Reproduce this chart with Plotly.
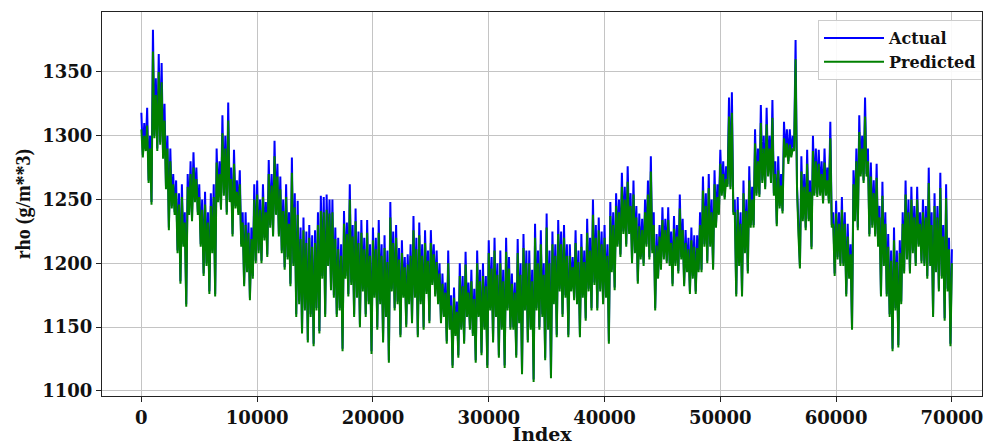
import plotly.graph_objects as go

# Sample spacing of the read-off series (Index units)
index_step = 125

actual = [
    1318, 1285, 1310, 1290, 1322, 1265, 1300, 1248, 1383, 1300, 1345, 1290, 1364, 1295, 1357, 1284, 1325, 1260, 1300, 1228,
    1290, 1245, 1270, 1240, 1265, 1210, 1255, 1186, 1262, 1215, 1240, 1168, 1270, 1240, 1280, 1235, 1287, 1250, 1275, 1240,
    1262, 1215, 1250, 1192, 1256, 1200, 1240, 1178, 1255, 1210, 1262, 1176, 1290, 1250, 1280, 1244, 1316, 1255, 1300, 1240,
    1326, 1250, 1275, 1223, 1289, 1245, 1265, 1240, 1273, 1215, 1240, 1184, 1240, 1195, 1232, 1173, 1228, 1190, 1262, 1202,
    1265, 1210, 1250, 1202, 1262, 1220, 1248, 1207, 1281, 1230, 1270, 1223, 1296, 1240, 1278, 1223, 1268, 1210, 1250, 1197,
    1262, 1205, 1240, 1184, 1283, 1200, 1255, 1160, 1249, 1170, 1228, 1147, 1236, 1165, 1225, 1140, 1230, 1160, 1222, 1137,
    1226, 1165, 1240, 1147, 1253, 1190, 1252, 1160, 1254, 1200, 1250, 1181, 1250, 1175, 1228, 1160, 1220, 1165, 1215, 1133,
    1241, 1190, 1232, 1176, 1262, 1185, 1230, 1160, 1243, 1175, 1225, 1152, 1234, 1180, 1220, 1160, 1234, 1170, 1215, 1131,
    1228, 1175, 1220, 1150, 1234, 1170, 1215, 1140, 1222, 1160, 1210, 1124, 1248, 1180, 1225, 1165, 1230, 1170, 1212, 1144,
    1218, 1175, 1205, 1152, 1207, 1170, 1215, 1155, 1237, 1175, 1220, 1144, 1232, 1170, 1215, 1150, 1226, 1178, 1210, 1155,
    1226, 1185, 1215, 1176, 1210, 1170, 1200, 1155, 1192, 1160, 1185, 1139, 1210, 1150, 1175, 1120, 1181, 1145, 1170, 1128,
    1200, 1150, 1190, 1139, 1209, 1160, 1185, 1150, 1195, 1145, 1180, 1124, 1210, 1160, 1195, 1130, 1200, 1150, 1190, 1120,
    1218, 1165, 1205, 1140, 1220, 1160, 1200, 1128, 1210, 1150, 1195, 1120, 1220, 1165, 1205, 1150, 1192, 1150, 1185, 1128,
    1219, 1155, 1200, 1115, 1223, 1165, 1210, 1140, 1210, 1150, 1195, 1109, 1231, 1165, 1210, 1150, 1226, 1160, 1200, 1126,
    1239, 1150, 1210, 1112, 1225, 1170, 1215, 1144, 1234, 1180, 1225, 1160, 1230, 1175, 1215, 1144, 1215, 1180, 1205, 1173,
    1226, 1170, 1210, 1144, 1223, 1175, 1210, 1157, 1235, 1180, 1220, 1165, 1250, 1185, 1230, 1165, 1236, 1180, 1225, 1170,
    1230, 1175, 1215, 1139, 1248, 1195, 1240, 1181, 1255, 1215, 1250, 1207, 1271, 1225, 1260, 1215, 1276, 1225, 1255, 1202,
    1265, 1210, 1245, 1186, 1239, 1205, 1235, 1200, 1250, 1215, 1265, 1205, 1284, 1210, 1240, 1165, 1223, 1190, 1230, 1197,
    1244, 1205, 1235, 1202, 1244, 1200, 1225, 1184, 1237, 1200, 1230, 1194, 1254, 1205, 1235, 1184, 1226, 1195, 1220, 1178,
    1228, 1190, 1222, 1178, 1222, 1195, 1240, 1195, 1268, 1215, 1255, 1202, 1270, 1215, 1250, 1197, 1273, 1230, 1262, 1240,
    1289, 1255, 1280, 1252, 1276, 1262, 1330, 1260, 1334, 1240, 1250, 1176, 1252, 1200, 1240, 1176, 1265, 1210, 1250, 1194,
    1276, 1230, 1260, 1230, 1305, 1255, 1290, 1254, 1324, 1265, 1300, 1260, 1322, 1270, 1300, 1265, 1328, 1255, 1280, 1231,
    1284, 1245, 1270, 1241, 1311, 1285, 1305, 1280, 1305, 1285, 1300, 1290, 1375, 1260, 1230, 1198, 1284, 1235, 1270, 1228,
    1289, 1235, 1265, 1213, 1300, 1255, 1290, 1254, 1289, 1255, 1280, 1249, 1290, 1255, 1275, 1249, 1311, 1230, 1240, 1192,
    1249, 1205, 1240, 1200, 1252, 1200, 1240, 1176, 1231, 1190, 1215, 1150, 1273, 1235, 1290, 1228, 1316, 1270, 1300, 1265,
    1330, 1270, 1290, 1223, 1279, 1230, 1265, 1223, 1278, 1215, 1245, 1176, 1264, 1200, 1240, 1176, 1223, 1160, 1210, 1133,
    1228, 1165, 1210, 1136, 1218, 1170, 1240, 1194, 1265, 1205, 1250, 1194, 1260, 1210, 1245, 1200, 1260, 1215, 1240, 1202,
    1250, 1200, 1245, 1190, 1275, 1200, 1240, 1160, 1255, 1195, 1245, 1180, 1271, 1190, 1230, 1157, 1262, 1180, 1220, 1137,
    1211,
]

predicted = [
    1305, 1283, 1300, 1288, 1308, 1263, 1290, 1246, 1366, 1298, 1332, 1288, 1350, 1293, 1342, 1282, 1312, 1258, 1290, 1226,
    1280, 1243, 1262, 1238, 1255, 1208, 1246, 1184, 1252, 1213, 1232, 1166, 1260, 1238, 1270, 1233, 1275, 1248, 1266, 1238,
    1252, 1213, 1242, 1190, 1246, 1198, 1232, 1176, 1245, 1208, 1252, 1174, 1279, 1248, 1270, 1242, 1302, 1253, 1290, 1238,
    1312, 1248, 1266, 1221, 1278, 1243, 1256, 1238, 1262, 1213, 1232, 1182, 1230, 1193, 1224, 1171, 1219, 1188, 1250, 1200,
    1254, 1208, 1242, 1200, 1252, 1218, 1240, 1205, 1270, 1228, 1261, 1221, 1284, 1238, 1268, 1221, 1258, 1208, 1241, 1195,
    1252, 1203, 1231, 1182, 1271, 1198, 1244, 1158, 1238, 1168, 1219, 1145, 1226, 1163, 1216, 1138, 1220, 1158, 1213, 1135,
    1216, 1163, 1230, 1145, 1241, 1188, 1240, 1158, 1242, 1198, 1239, 1179, 1240, 1173, 1219, 1158, 1211, 1163, 1206, 1131,
    1231, 1188, 1223, 1174, 1250, 1183, 1221, 1158, 1233, 1173, 1216, 1150, 1224, 1178, 1211, 1158, 1224, 1168, 1206, 1129,
    1218, 1173, 1211, 1148, 1224, 1168, 1206, 1138, 1212, 1158, 1201, 1122, 1236, 1178, 1216, 1163, 1220, 1168, 1203, 1142,
    1208, 1173, 1197, 1150, 1199, 1168, 1206, 1153, 1226, 1173, 1211, 1142, 1222, 1168, 1206, 1148, 1216, 1176, 1202, 1153,
    1216, 1183, 1207, 1174, 1201, 1168, 1192, 1153, 1184, 1158, 1177, 1137, 1200, 1148, 1167, 1118, 1173, 1143, 1162, 1126,
    1190, 1148, 1182, 1137, 1199, 1158, 1177, 1148, 1186, 1143, 1172, 1122, 1200, 1158, 1186, 1128, 1190, 1148, 1182, 1118,
    1208, 1163, 1196, 1138, 1210, 1158, 1191, 1126, 1200, 1148, 1186, 1118, 1209, 1163, 1196, 1148, 1184, 1148, 1177, 1126,
    1208, 1153, 1191, 1113, 1212, 1163, 1200, 1138, 1200, 1148, 1186, 1107, 1220, 1163, 1200, 1148, 1215, 1158, 1191, 1124,
    1228, 1148, 1200, 1110, 1215, 1168, 1206, 1142, 1223, 1178, 1215, 1158, 1220, 1173, 1206, 1142, 1206, 1178, 1197, 1171,
    1216, 1168, 1201, 1142, 1213, 1173, 1201, 1155, 1224, 1178, 1210, 1163, 1238, 1183, 1220, 1163, 1226, 1178, 1215, 1168,
    1220, 1173, 1206, 1137, 1237, 1193, 1230, 1179, 1245, 1213, 1240, 1205, 1260, 1223, 1250, 1213, 1264, 1223, 1245, 1200,
    1254, 1208, 1236, 1184, 1229, 1203, 1226, 1198, 1240, 1213, 1254, 1203, 1272, 1208, 1230, 1163, 1214, 1188, 1221, 1195,
    1234, 1203, 1226, 1200, 1234, 1198, 1216, 1182, 1227, 1198, 1221, 1192, 1243, 1203, 1226, 1182, 1216, 1193, 1211, 1176,
    1218, 1188, 1213, 1176, 1212, 1193, 1230, 1193, 1257, 1213, 1245, 1200, 1259, 1213, 1240, 1195, 1262, 1228, 1252, 1238,
    1278, 1253, 1270, 1250, 1266, 1260, 1315, 1258, 1318, 1238, 1240, 1174, 1242, 1198, 1231, 1174, 1255, 1208, 1241, 1192,
    1265, 1228, 1250, 1228, 1294, 1253, 1280, 1252, 1310, 1263, 1290, 1258, 1309, 1268, 1290, 1263, 1314, 1253, 1270, 1229,
    1273, 1243, 1261, 1239, 1298, 1283, 1294, 1278, 1293, 1283, 1290, 1288, 1360, 1258, 1222, 1196, 1272, 1233, 1260, 1226,
    1278, 1233, 1256, 1211, 1288, 1253, 1280, 1252, 1278, 1253, 1270, 1247, 1279, 1253, 1265, 1247, 1298, 1228, 1231, 1190,
    1239, 1203, 1231, 1198, 1242, 1198, 1231, 1174, 1221, 1188, 1207, 1148, 1262, 1233, 1280, 1226, 1303, 1268, 1290, 1263,
    1315, 1268, 1280, 1221, 1268, 1228, 1255, 1221, 1267, 1213, 1236, 1174, 1253, 1198, 1231, 1174, 1213, 1158, 1202, 1131,
    1218, 1163, 1201, 1134, 1208, 1168, 1231, 1192, 1254, 1203, 1240, 1192, 1250, 1208, 1236, 1198, 1250, 1213, 1231, 1200,
    1240, 1198, 1236, 1188, 1263, 1198, 1230, 1158, 1245, 1193, 1236, 1178, 1259, 1188, 1221, 1155, 1251, 1178, 1211, 1135,
    1200,
]

x_actual = [i * index_step for i in range(len(actual))]
x_predicted = [i * index_step for i in range(len(predicted))]

x_ticks = [0, 10000, 20000, 30000, 40000, 50000, 60000, 70000]
y_ticks = [1100, 1150, 1200, 1250, 1300, 1350]

TICK_FONT = "DejaVu Serif, serif"
TITLE_FONT = "Liberation Serif, Times New Roman, serif"

fig = go.Figure()
fig.add_trace(go.Scatter(x=x_actual, y=actual, mode="lines", name="<b>Actual</b>",
                         line=dict(color="#0000ff", width=2)))
fig.add_trace(go.Scatter(x=x_predicted, y=predicted, mode="lines", name="<b>Predicted</b>",
                         line=dict(color="#008000", width=2)))

axis_common = dict(showline=True, linecolor="#222", linewidth=1, mirror=True,
                   showgrid=True, gridcolor="#c4c4c4", gridwidth=1,
                   ticks="outside", ticklen=5, tickcolor="#222", zeroline=False,
                   automargin=False,
                   tickfont=dict(family=TICK_FONT, size=18, color="#111"))

fig.update_xaxes(range=[-3400, 72600], tickvals=x_ticks,
                 ticktext=[f"<b>{v}</b>" for v in x_ticks],
                 title=dict(text="<b>Index</b>", font=dict(family=TICK_FONT, size=19, color="#111"), standoff=0),
                 **axis_common)
fig.update_yaxes(range=[1096, 1397], tickvals=y_ticks,
                 ticktext=[f"<b>{v}</b>" for v in y_ticks],
                 title=dict(text="<b>rho (g/m**3)</b>", font=dict(family=TITLE_FONT, size=20, color="#111"), standoff=6),
                 **axis_common)

fig.update_layout(
    width=987, height=445,
    margin=dict(l=102, r=5, t=12, b=49),
    paper_bgcolor="white", plot_bgcolor="white",
    showlegend=True,
    legend=dict(x=1.0, y=0.979, xanchor="right", yanchor="top",
                bgcolor="rgba(255,255,255,0.9)", bordercolor="#cccccc", borderwidth=1,
                font=dict(family=TICK_FONT, size=16, color="#111"), itemwidth=60,
                tracegroupgap=0),
)

fig.write_html("out.html", config={"displayModeBar": False},
               post_script="document.body.style.margin='0';document.body.style.overflow='hidden';")
